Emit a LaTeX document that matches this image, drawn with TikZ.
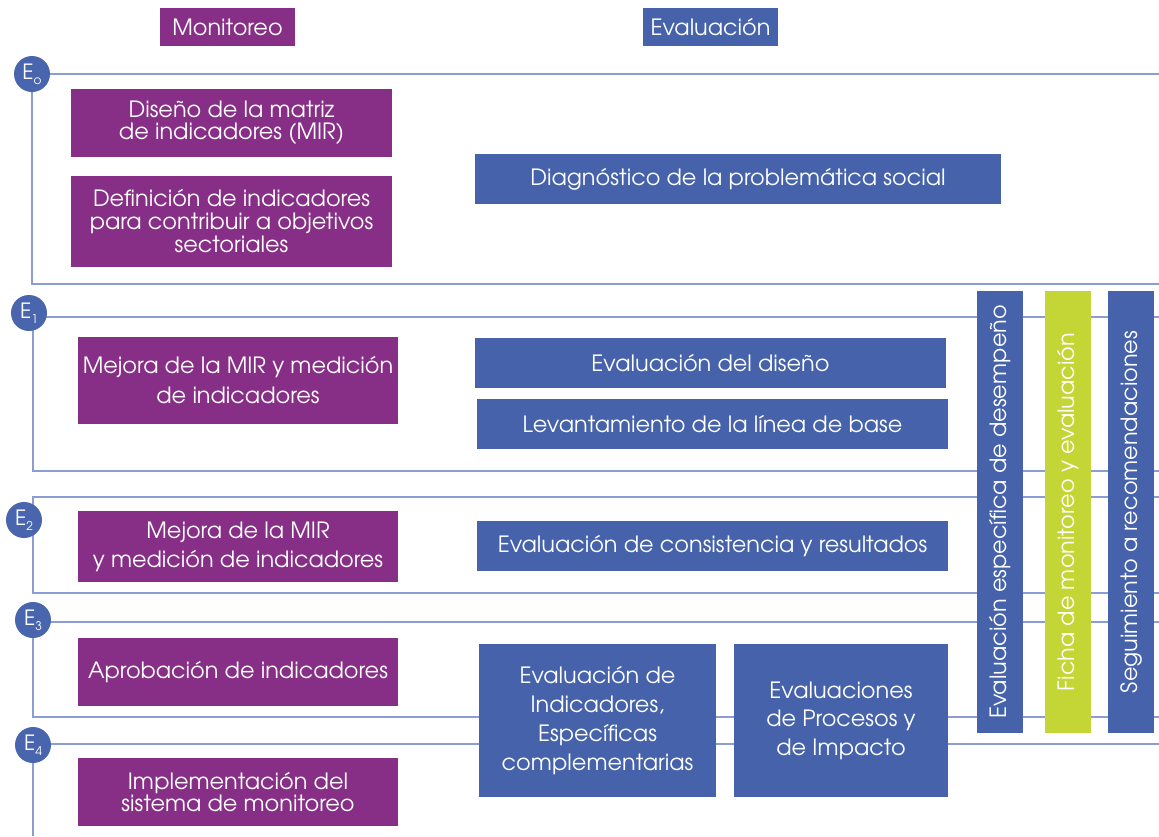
\documentclass[tikz,border=0pt]{standalone}
\usepackage{fontspec}
\setmainfont{TeX Gyre Adventor}
\usetikzlibrary{backgrounds}
\definecolor{mpurple}{RGB}{135,47,134}
\definecolor{mblue}{RGB}{69,98,170}
\definecolor{mlime}{RGB}{196,213,54}
\definecolor{mline}{RGB}{138,158,212}
\definecolor{mcirc}{RGB}{72,101,174}
\newcommand\esub[1]{\raisebox{-0.45ex}{\fontsize{12}{12}\selectfont #1}}
\newcommand\lead[1]{\fontsize{22.4}{#1}\selectfont}
\tikzset{
  boxbase/.style={inner sep=2pt, align=center, text=white, font=\lead{23}},
  mbox/.style={boxbase, fill=mpurple},
  ebox/.style={boxbase, fill=mblue},
  vbar/.style={boxbase, rotate=90, minimum width=442pt, minimum height=46pt},
  ecirc/.style={circle, fill=mcirc, text=white, minimum size=36pt, inner sep=0pt, font=\fontsize{21}{21}\selectfont},
  ln/.style={draw=mline, line width=2.2pt}
}
\begin{document}
\begin{tikzpicture}[x=1pt,y=-1pt]
\useasboundingbox (0,0) rectangle (1159,836);
% headers
\node[mbox, minimum width=135pt, minimum height=38pt] (hmon) at (227.5,27) {Monitoreo};
\node[ebox, minimum width=135pt, minimum height=38pt] (heval) at (710.5,27) {Evaluación};
% stage circles
\node[ecirc] (c0) at (32,74) {E\esub{o}};
\node[ecirc] (c1) at (29,313) {E\esub{1}};
\node[ecirc] (c2) at (24,520) {E\esub{2}};
\node[ecirc] (c3) at (33,620) {E\esub{3}};
\node[ecirc] (c4) at (33,745) {E\esub{4}};
% line coordinates
\coordinate (r0t) at (1159,74);
\coordinate (l0) at (33,284);
\coordinate (r0b) at (1159,284);
\coordinate (k1) at (33,317);
\coordinate (r1t) at (1159,317);
\coordinate (l1) at (33,471);
\coordinate (r1b) at (1159,471);
\coordinate (k2) at (33,497);
\coordinate (r2t) at (1159,497);
\coordinate (l2) at (33,593);
\coordinate (r2b) at (1159,593);
\coordinate (k3) at (33,622);
\coordinate (r3t) at (1159,622);
\coordinate (l3) at (33,717);
\coordinate (r3b) at (1159,717);
\coordinate (k4) at (33,744);
\coordinate (r4t) at (1159,744);
\coordinate (l4) at (33,836);
\begin{pgfonlayer}{background}
\fill[white] (0,0) rectangle (1159,836);
\draw[ln] (r0t) -- (c0.center) |- (l0) -- (r0b);
\draw[ln] (r1t) -- (k1) -- (l1) -- (r1b);
\draw[ln] (r2t) -- (k2) -- (l2) -- (r2b);
\draw[ln] (r3t) -- (k3) -- (l3) -- (r3b);
\draw[ln] (r4t) -- (k4) -- (l4);
\end{pgfonlayer}
% E0
\node[mbox, minimum width=321pt, minimum height=68pt, font=\lead{22}] (m0a) at (231.5,123) {Diseño de la matriz\\de indicadores (MIR)};
\node[mbox, minimum width=321pt, minimum height=91pt, font=\lead{23}] (m0b) at (231.5,221.5) {Definición de indicadores\\para contribuir a objetivos\\sectoriales};
\node[ebox, minimum width=526pt, minimum height=50pt] (e0) at (738,179) {Diagnóstico de la problemática social};
% E1
\node[mbox, minimum width=320pt, minimum height=87pt, font=\lead{30}] (m1) at (238,380.5) {Mejora de la MIR y medición\\de indicadores};
\node[ebox, minimum width=471pt, minimum height=50pt] (e1a) at (710.5,363) {Evaluación del diseño};
\node[ebox, minimum width=471pt, minimum height=50pt] (e1b) at (712.5,424) {Levantamiento de la línea de base};
% E2
\node[mbox, minimum width=320pt, minimum height=71pt, font=\lead{29}] (m2) at (238,546.5) {Mejora de la MIR\\y medición de indicadores};
\node[ebox, minimum width=471pt, minimum height=50pt] (e2) at (712.5,546) {Evaluación de consistencia y resultados};
% E3
\node[mbox, minimum width=320pt, minimum height=68pt] (m3) at (238,672) {Aprobación de indicadores};
\node[ebox, minimum width=237pt, minimum height=153pt, font=\lead{29}] (e3a) at (597.5,720.5) {Evaluación de\\Indicadores,\\Específicas\\complementarias};
\node[ebox, minimum width=214pt, minimum height=153pt, font=\lead{28.5}] (e3b) at (841,720.5) {Evaluaciones\\de Procesos y\\de Impacto};
% E4
\node[mbox, minimum width=320pt, minimum height=68pt, font=\lead{21.5}] (m4) at (238,792) {Implementación del\\sistema de monitoreo};
% vertical bars
\node[vbar, fill=mblue] (v1) at (1000,512) {Evaluación específica de desempeño};
\node[vbar, fill=mlime] (v2) at (1068,512) {Ficha de monitoreo y evaluación};
\node[vbar, fill=mblue] (v3) at (1131,512) {Seguimiento a recomendaciones};
\end{tikzpicture}
\end{document}
